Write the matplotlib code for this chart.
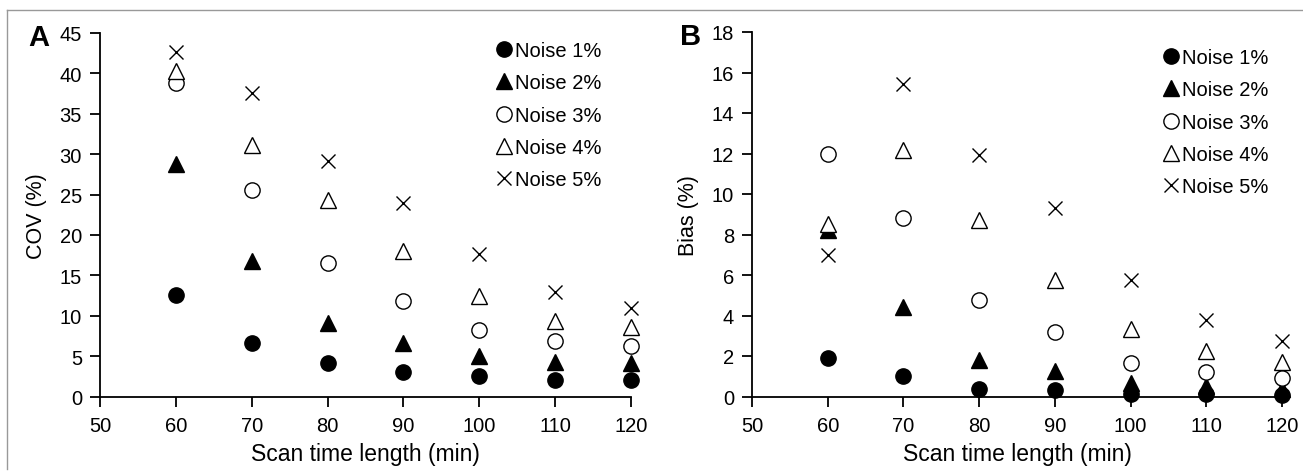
import numpy as np
import matplotlib.pyplot as plt
from matplotlib.lines import Line2D

plt.rcParams['font.family'] = ['Liberation Sans', 'DejaVu Sans']

scan_time = [60, 70, 80, 90, 100, 110, 120]
labels = ['Noise 1%', 'Noise 2%', 'Noise 3%', 'Noise 4%', 'Noise 5%']

cov_n1 = [12.6, 6.6, 4.1, 3.0, 2.5, 2.1, 2.1]
cov_n2 = [28.8, 16.8, 9.1, 6.6, 5.0, 4.3, 4.1]
cov_n3 = [38.8, 25.6, 16.5, 11.8, 8.2, 6.9, 6.3]
cov_n4 = [40.3, 31.1, 24.3, 18.0, 12.4, 9.3, 8.6]
cov_n5 = [42.7, 37.6, 29.1, 23.9, 17.6, 12.9, 11.0]

bias_n1 = [1.9, 1.0, 0.38, 0.3, 0.13, 0.13, 0.05]
bias_n2 = [8.2, 4.4, 1.8, 1.25, 0.68, 0.5, 0.38]
bias_n3 = [11.96, 8.83, 4.78, 3.18, 1.65, 1.2, 0.92]
bias_n4 = [8.5, 12.16, 8.7, 5.73, 3.34, 2.27, 1.7]
bias_n5 = [7.0, 15.45, 11.94, 9.3, 5.77, 3.76, 2.73]

# marker styles: (marker, filled)
styles = [('o', True), ('^', True), ('o', False), ('^', False), ('x', True)]

W, H = 1303, 477
fig = plt.figure(figsize=(W / 100, H / 100), dpi=100)

# gray frame lines at top and left
fig.add_artist(Line2D([7 / W, 1], [1 - 11 / H, 1 - 11 / H], color='#999999', lw=1))
fig.add_artist(Line2D([7 / W, 7 / W], [1 - 11 / H, 1 - 470 / H], color='#999999', lw=1))

ax_a = fig.add_axes([100 / W, 1 - 397.5 / H, 531 / W, 363.5 / H])
ax_b = fig.add_axes([752 / W, 1 - 397.5 / H, 530 / W, 364.5 / H])


def draw_panel(ax, series, ylim, yticks, ylabel, letter, leg_anchor):
    for vals, (m, filled), lab in zip(series, styles, labels):
        ax.plot(scan_time, vals, linestyle='none', marker=m,
                markersize=11 if m != 'x' else 10.5,
                markerfacecolor='black' if filled else 'white',
                markeredgecolor='black', markeredgewidth=1.0,
                label=lab, clip_on=False, zorder=3)
    ax.set_xlim(50, 120)
    ax.set_ylim(*ylim)
    ax.set_xticks(range(50, 121, 10))
    ax.set_yticks(yticks)
    for s in ['top', 'right']:
        ax.spines[s].set_visible(False)
    for s in ['left', 'bottom']:
        ax.spines[s].set_linewidth(1.3)
    ax.tick_params(direction='out', length=7, width=1.3, labelsize=14.5)
    ax.tick_params(axis='x', pad=7)
    ax.tick_params(axis='y', pad=6)
    ax.set_xlabel('Scan time length (min)', fontsize=16.5, labelpad=5)
    ax.set_ylabel(ylabel, fontsize=15.5, labelpad=9)
    ax.text(-0.136, 0.99, letter, transform=ax.transAxes, fontsize=21,
            fontweight='bold', va='center', ha='left')
    ax.legend(loc='upper right', bbox_to_anchor=leg_anchor, frameon=False,
              fontsize=14.5, handlelength=0.6, handletextpad=0.25,
              labelspacing=0.66, borderaxespad=0)


draw_panel(ax_a, [cov_n1, cov_n2, cov_n3, cov_n4, cov_n5], (0, 45),
           range(0, 46, 5), 'COV (%)', 'A', (0.959, 1.0))
draw_panel(ax_b, [bias_n1, bias_n2, bias_n3, bias_n4, bias_n5], (0, 18),
           range(0, 19, 2), 'Bias (%)', 'B', (0.99, 0.978))

plt.savefig('out.png', dpi=100)
